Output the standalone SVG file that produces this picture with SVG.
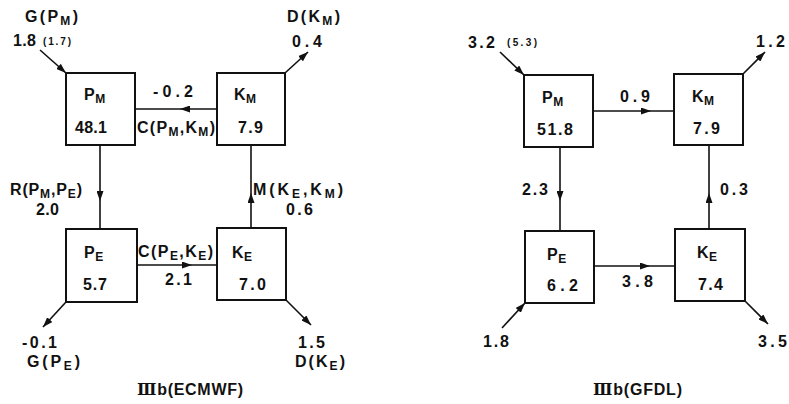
<svg xmlns="http://www.w3.org/2000/svg" width="789" height="404" viewBox="0 0 789 404">
<defs>
<style>
.t{font-family:"Liberation Sans",Arial,sans-serif;font-weight:bold;font-size:16px;fill:#111}
.n{letter-spacing:0.5px}
.s{font-size:12px}
.x{font-size:10px}
.r{font-family:"DejaVu Serif","Liberation Serif",serif;font-weight:bold}
.box{fill:#fff;stroke:#111;stroke-width:2}
.ln{fill:none;stroke:#111;stroke-width:1.6}
.mid{marker-mid:url(#ah)}
.end{marker-end:url(#ah)}
</style>
<marker id="ah" viewBox="0 0 10 7" refX="10" refY="3.5" markerWidth="10" markerHeight="7" markerUnits="userSpaceOnUse" orient="auto">
<path d="M0,0 L10,3.5 L0,7 z" fill="#111"/>
</marker>
</defs>

<g id="connectors">
<!-- left -->
<path class="ln mid" d="M217,109 L180,109 L136,109"/>
<path class="ln mid" d="M100,145 L100,201 L100,229"/>
<path class="ln mid" d="M251,228 L251,193 L251,145"/>
<path class="ln mid" d="M137,265 L192,265 L217,265"/>
<path class="ln end" d="M40,50 L66,73"/>
<path class="ln end" d="M285,73 L308,52"/>
<path class="ln end" d="M66,302 L43,327"/>
<path class="ln end" d="M286,300 L311,325"/>
<!-- right -->
<path class="ln mid" d="M593,111 L651,111 L674,111"/>
<path class="ln mid" d="M560,147 L560,201 L560,231"/>
<path class="ln mid" d="M709,229 L709,193 L709,145"/>
<path class="ln mid" d="M594,266 L650,266 L675,266"/>
<path class="ln end" d="M500,52 L524,75"/>
<path class="ln end" d="M743,74 L765,52"/>
<path class="ln end" d="M502,328 L525,303"/>
<path class="ln end" d="M745,301 L768,324"/>
</g>

<g id="ecmwf-PM">
<rect class="box" x="66" y="73" width="69" height="72"/>
<text class="t n" x="84" y="100">P<tspan class="s" dy="3">M</tspan></text>
<text class="t" x="75" y="133" textLength="32" lengthAdjust="spacing">48.1</text>
</g>
<g id="ecmwf-KM">
<rect class="box" x="217" y="73" width="68" height="72"/>
<text class="t n" x="234" y="100">K<tspan class="s" dy="3">M</tspan></text>
<text class="t" x="238" y="133" textLength="25" lengthAdjust="spacing">7.9</text>
</g>
<g id="ecmwf-PE">
<rect class="box" x="66" y="229" width="71" height="73"/>
<text class="t n" x="84" y="258">P<tspan class="s" dy="3">E</tspan></text>
<text class="t" x="83" y="290" textLength="24" lengthAdjust="spacing">5.7</text>
</g>
<g id="ecmwf-KE">
<rect class="box" x="217" y="228" width="69" height="72"/>
<text class="t n" x="232" y="258">K<tspan class="s" dy="3">E</tspan></text>
<text class="t" x="239" y="290" textLength="27" lengthAdjust="spacing">7.0</text>
</g>

<g id="ecmwf-labels">
<text class="t" x="25" y="22" textLength="53" lengthAdjust="spacing">G(P<tspan class="s" dy="3">M</tspan><tspan dy="-3">)</tspan></text>
<text class="t" x="13" y="46" textLength="23" lengthAdjust="spacing">1.8</text>
<text class="t x" x="43" y="45" textLength="28" lengthAdjust="spacing">(1.7)</text>
<text class="t" x="287" y="22" textLength="53" lengthAdjust="spacing">D(K<tspan class="s" dy="3">M</tspan><tspan dy="-3">)</tspan></text>
<text class="t" x="292" y="47" textLength="30" lengthAdjust="spacing">0.4</text>
<text class="t" x="153" y="97" textLength="40" lengthAdjust="spacing">-0.2</text>
<text class="t" x="137" y="133" textLength="78" lengthAdjust="spacing">C(P<tspan class="s" dy="3">M</tspan><tspan dy="-3">,K</tspan><tspan class="s" dy="3">M</tspan><tspan dy="-3">)</tspan></text>
<text class="t" x="10" y="195" textLength="72" lengthAdjust="spacing">R(P<tspan class="s" dy="3">M</tspan><tspan dy="-3">,P</tspan><tspan class="s" dy="3">E</tspan><tspan dy="-3">)</tspan></text>
<text class="t" x="36" y="215" textLength="23" lengthAdjust="spacing">2.0</text>
<text class="t" x="253" y="195" textLength="90" lengthAdjust="spacing">M(K<tspan class="s" dy="3">E</tspan><tspan dy="-3">,K</tspan><tspan class="s" dy="3">M</tspan><tspan dy="-3">)</tspan></text>
<text class="t" x="286" y="215" textLength="27" lengthAdjust="spacing">0.6</text>
<text class="t" x="138" y="257" textLength="75" lengthAdjust="spacing">C(P<tspan class="s" dy="3">E</tspan><tspan dy="-3">,K</tspan><tspan class="s" dy="3">E</tspan><tspan dy="-3">)</tspan></text>
<text class="t" x="165" y="285" textLength="27" lengthAdjust="spacing">2.1</text>
<text class="t" x="22" y="348" textLength="35" lengthAdjust="spacing">-0.1</text>
<text class="t" x="27" y="367" textLength="53" lengthAdjust="spacing">G(P<tspan class="s" dy="3">E</tspan><tspan dy="-3">)</tspan></text>
<text class="t" x="298" y="348" textLength="27" lengthAdjust="spacing">1.5</text>
<text class="t" x="295" y="367" textLength="50" lengthAdjust="spacing">D(K<tspan class="s" dy="3">E</tspan><tspan dy="-3">)</tspan></text>
<text class="t" x="137" y="395" textLength="106" lengthAdjust="spacing"><tspan class="r">Ⅲ</tspan>b(ECMWF)</text>
</g>

<g id="gfdl-PM">
<rect class="box" x="524" y="75" width="69" height="72"/>
<text class="t n" x="542" y="103">P<tspan class="s" dy="3">M</tspan></text>
<text class="t" x="537" y="135" textLength="36" lengthAdjust="spacing">51.8</text>
</g>
<g id="gfdl-KM">
<rect class="box" x="674" y="74" width="69" height="71"/>
<text class="t n" x="692" y="102">K<tspan class="s" dy="3">M</tspan></text>
<text class="t" x="693" y="134" textLength="27" lengthAdjust="spacing">7.9</text>
</g>
<g id="gfdl-PE">
<rect class="box" x="525" y="231" width="69" height="72"/>
<text class="t n" x="547" y="260">P<tspan class="s" dy="3">E</tspan></text>
<text class="t" x="547" y="291" textLength="31" lengthAdjust="spacing">6.2</text>
</g>
<g id="gfdl-KE">
<rect class="box" x="675" y="229" width="70" height="72"/>
<text class="t n" x="697" y="258">K<tspan class="s" dy="3">E</tspan></text>
<text class="t" x="698" y="290" textLength="25" lengthAdjust="spacing">7.4</text>
</g>

<g id="gfdl-labels">
<text class="t" x="468" y="48" textLength="27" lengthAdjust="spacing">3.2</text>
<text class="t x" x="507" y="46" textLength="30" lengthAdjust="spacing">(5.3)</text>
<text class="t" x="756" y="47" textLength="29" lengthAdjust="spacing">1.2</text>
<text class="t" x="620" y="102" textLength="30" lengthAdjust="spacing">0.9</text>
<text class="t" x="522" y="195" textLength="26" lengthAdjust="spacing">2.3</text>
<text class="t" x="720" y="195" textLength="28" lengthAdjust="spacing">0.3</text>
<text class="t" x="622" y="287" textLength="31" lengthAdjust="spacing">3.8</text>
<text class="t" x="483" y="347" textLength="26" lengthAdjust="spacing">1.8</text>
<text class="t" x="758" y="347" textLength="29" lengthAdjust="spacing">3.5</text>
<text class="t" x="593" y="395" textLength="89" lengthAdjust="spacing"><tspan class="r">Ⅲ</tspan>b(GFDL)</text>
</g>
</svg>
